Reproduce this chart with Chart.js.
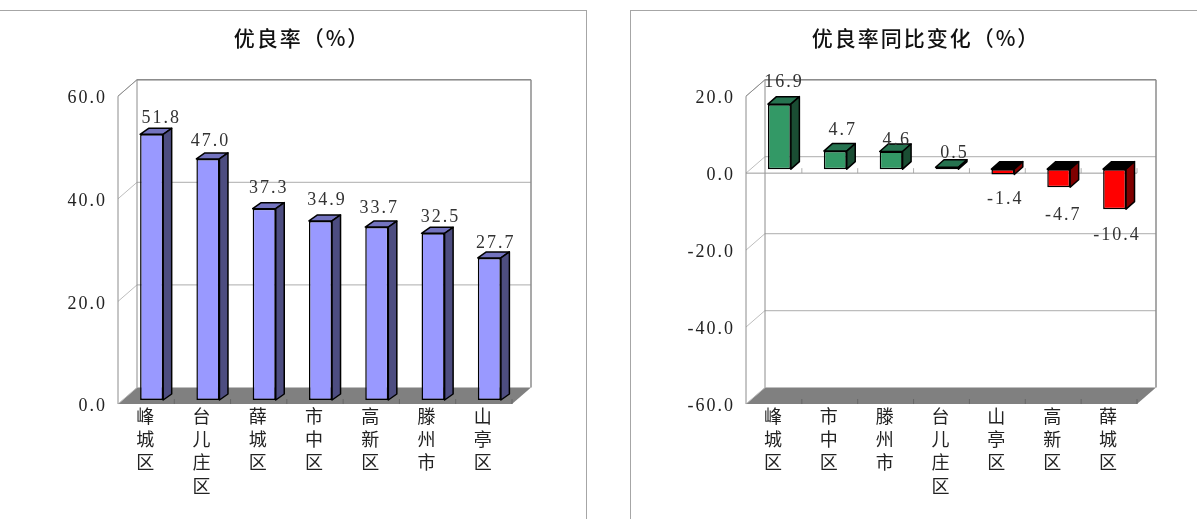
<!DOCTYPE html>
<html>
<head>
<meta charset="utf-8">
<style>
  html, body { margin: 0; background: #fff; }
  #page { position: relative; width: 1197px; height: 519px; overflow: hidden; }
  .panel { position: absolute; top: 10px; height: 520px; border: 1px solid #a6a6a6; box-sizing: border-box; }
  canvas { position: absolute; top: 0; }
</style>
</head>
<body>
<div id="page">
  <div class="panel" style="left:-2px;width:589px"></div>
  <div class="panel" style="left:630px;width:580px"></div>
  <canvas id="rateChart" style="left:0" width="590" height="519"></canvas>
  <canvas id="changeChart" style="left:610px" width="587" height="519"></canvas>
</div>
<script src="https://cdn.jsdelivr.net/npm/chart.js@4"></script>
<script>
const rateTitle = '优良率（%）';
const rateDistricts = ['峰城区', '台儿庄区', '薛城区', '市中区', '高新区', '滕州市', '山亭区'];
const rateValues = [51.8, 47.0, 37.3, 34.9, 33.7, 32.5, 27.7];

const changeTitle = '优良率同比变化（%）';
const changeDistricts = ['峰城区', '市中区', '滕州市', '台儿庄区', '山亭区', '高新区', '薛城区'];
const changeValues = [16.9, 4.7, 4.6, 0.5, -1.4, -4.7, -10.4];

const serif = '"Liberation Serif", "Noto Sans CJK SC"';
const cjk = '"Noto Sans CJK SC"';

// fake 3D box look, the way the old office charts draw it
const depthPlugin = {
  id: 'depth',
  afterLayout(chart, args, opts) {
    // title is not centred on the canvas in the original
    chart.titleBlock.left += opts.titleShift;
    chart.titleBlock.right += opts.titleShift;
  },
  beforeDraw(chart, args, opts) {
    const { ctx, chartArea: a, scales: { x, y } } = chart;
    const dx = opts.depthX, dy = opts.depthY;
    ctx.letterSpacing = '2px';
    ctx.save();
    ctx.lineWidth = 1;

    // floor
    ctx.fillStyle = '#808080';
    ctx.beginPath();
    ctx.moveTo(a.left, a.bottom);
    ctx.lineTo(a.left + dx, a.bottom - dy);
    ctx.lineTo(a.right + dx, a.bottom - dy);
    ctx.lineTo(a.right, a.bottom);
    ctx.closePath();
    ctx.fill();

    // grid on the back and side wall
    y.ticks.forEach(t => {
      const py = y.getPixelForValue(t.value);
      ctx.strokeStyle = '#bdbdbd';
      ctx.lineWidth = 1;
      line(ctx, a.left, py, a.left + dx, py - dy);
      ctx.lineWidth = 1.3;
      if (py < a.bottom) line(ctx, a.left + dx, py - dy, a.right + dx, py - dy);
    });
    ctx.lineWidth = 1;

    // wall frame
    ctx.strokeStyle = '#8c8c8c';
    line(ctx, a.left, a.top, a.left, a.bottom);
    line(ctx, a.left + dx, a.top - dy, a.left + dx, a.bottom - dy);
    line(ctx, a.left, a.top, a.left + dx, a.top - dy);
    ctx.lineWidth = 1.5;
    line(ctx, a.left + dx, a.top - dy, a.right + dx, a.top - dy);
    line(ctx, a.right + dx, a.top - dy, a.right + dx, a.bottom - dy);
    ctx.lineWidth = 1;

    // category ticks on the floor edge and on the zero line
    const zero = y.getPixelForValue(0);
    const n = x.ticks.length;
    for (let i = 1; i <= n; i++) {
      const px = a.left + (a.right - a.left) * i / n;
      ctx.strokeStyle = '#666';
      line(ctx, px, a.bottom, px, a.bottom - 5);
      if (zero < a.bottom) {
        ctx.strokeStyle = '#b0b0b0';
        line(ctx, px, zero, px, zero - 5);
      }
    }
    if (zero < a.bottom) {
      ctx.strokeStyle = '#9a9a9a';
      line(ctx, a.left, zero, a.right, zero);
    }
    ctx.restore();
  },
  beforeDatasetsDraw(chart, args, opts) {
    const { ctx } = chart;
    const meta = chart.getDatasetMeta(0);
    const data = chart.data.datasets[0].data;
    ctx.save();
    ctx.translate(opts.shiftX, -opts.shiftY);
    ctx.lineWidth = 1.5;
    ctx.strokeStyle = '#000';
    ctx.lineJoin = 'round';
    meta.data.forEach((bar, i) => {
      const p = bar.getProps(['x', 'y', 'base', 'width'], true);
      const left = p.x - p.width / 2, right = p.x + p.width / 2;
      const top = Math.min(p.y, p.base), bottom = Math.max(p.y, p.base);
      const neg = data[i] < 0;
      const bx = opts.barDepthX, by = opts.barDepthY;
      ctx.fillStyle = neg ? opts.negTop : opts.posTop;
      poly(ctx, [[left, top], [left + bx, top - by], [right + bx, top - by], [right, top]]);
      ctx.fillStyle = neg ? opts.negSide : opts.posSide;
      poly(ctx, [[right, top], [right + bx, top - by], [right + bx, bottom - by], [right, bottom]]);
    });
    ctx.restore();
    ctx.save();
    ctx.translate(opts.shiftX, -opts.shiftY);
  },
  afterDatasetsDraw(chart, args, opts) {
    const { ctx } = chart;
    ctx.restore();
    const meta = chart.getDatasetMeta(0);
    const data = chart.data.datasets[0].data;
    ctx.save();
    ctx.font = '18px ' + serif;
    ctx.fillStyle = '#333';
    ctx.textAlign = 'center';
    ctx.textBaseline = 'middle';
    meta.data.forEach((bar, i) => {
      const nudge = opts.labelNudge[i];
      ctx.fillText(data[i].toFixed(1), bar.x + nudge[0], bar.y + nudge[1] + 2);
    });
    ctx.restore();
  }
};

function line(ctx, x1, y1, x2, y2) {
  ctx.beginPath();
  ctx.moveTo(x1, y1);
  ctx.lineTo(x2, y2);
  ctx.stroke();
}

function poly(ctx, pts) {
  ctx.beginPath();
  pts.forEach((p, i) => (i ? ctx.lineTo(p[0], p[1]) : ctx.moveTo(p[0], p[1])));
  ctx.closePath();
  ctx.fill();
  ctx.stroke();
}

function initBoxChart(canvasId, title, districts, values, range, look) {
  return new Chart(document.getElementById(canvasId), {
    type: 'bar',
    plugins: [depthPlugin],
    data: {
      labels: districts.map(d => d.split('')),
      datasets: [{
        data: values,
        backgroundColor: values.map(v => (v < 0 ? '#ff0000' : look.posFront)),
        borderColor: '#000',
        borderWidth: 1.5,
        borderSkipped: false,
        categoryPercentage: 1,
        barPercentage: 0.41
      }]
    },
    options: {
      responsive: false,
      animation: false,
      layout: { padding: look.padding },
      plugins: {
        legend: { display: false },
        tooltip: { enabled: false },
        title: {
          display: true,
          text: title,
          color: '#111',
          font: { family: cjk, size: 21, weight: '500' },
          padding: { top: 0, bottom: look.titleGap }
        },
        depth: look.depth
      },
      scales: {
        x: {
          grid: { display: false },
          border: { display: false },
          ticks: {
            color: '#222',
            padding: -8,
            maxRotation: 0,
            autoSkip: false,
            font: { family: cjk, size: 18, lineHeight: 1.3 }
          },
          afterFit: s => { s.height = 115; }
        },
        y: {
          min: range[0],
          max: range[1],
          grid: { display: false },
          border: { display: false },
          ticks: {
            stepSize: 20,
            color: '#222',
            padding: 3,
            labelOffset: 2.5,
            font: { family: serif, size: 18 },
            callback: v => v.toFixed(1)
          },
          afterFit: s => { s.width = look.axisWidth; }
        }
      }
    }
  });
}

const depth = { depthX: 19, depthY: 16.5, shiftX: 5.5, shiftY: 4, barDepthX: 8.5 };

initBoxChart('rateChart', rateTitle, rateDistricts, rateValues, [0, 60], {
  posFront: '#9999ff',
  padding: { left: 60, right: 78, top: 25, bottom: 0 },
  axisWidth: 58,
  titleGap: 46,
  depth: { ...depth, barDepthY: 6, titleShift: 16, posTop: '#7373bf', posSide: '#4d4d80', negTop: '#000', negSide: '#800000',
    labelNudge: [[15, -22], [8, -24], [10, -26], [12, -27], [8, -25], [13, -22], [12, -21]] }
});

initBoxChart('changeChart', changeTitle, changeDistricts, changeValues, [-60, 20], {
  posFront: '#339966',
  padding: { left: 60, right: 60, top: 25, bottom: 0 },
  axisWidth: 76,
  titleGap: 46,
  depth: { ...depth, barDepthY: 7.5, titleShift: 22.5, posTop: '#267350', posSide: '#1a4d33', negTop: '#000', negSide: '#800000',
    labelNudge: [[10, -28], [13, -27], [11, -17], [13, -20], [8, 19], [10, 22], [8, 20]] }
});
</script>
</body>
</html>
